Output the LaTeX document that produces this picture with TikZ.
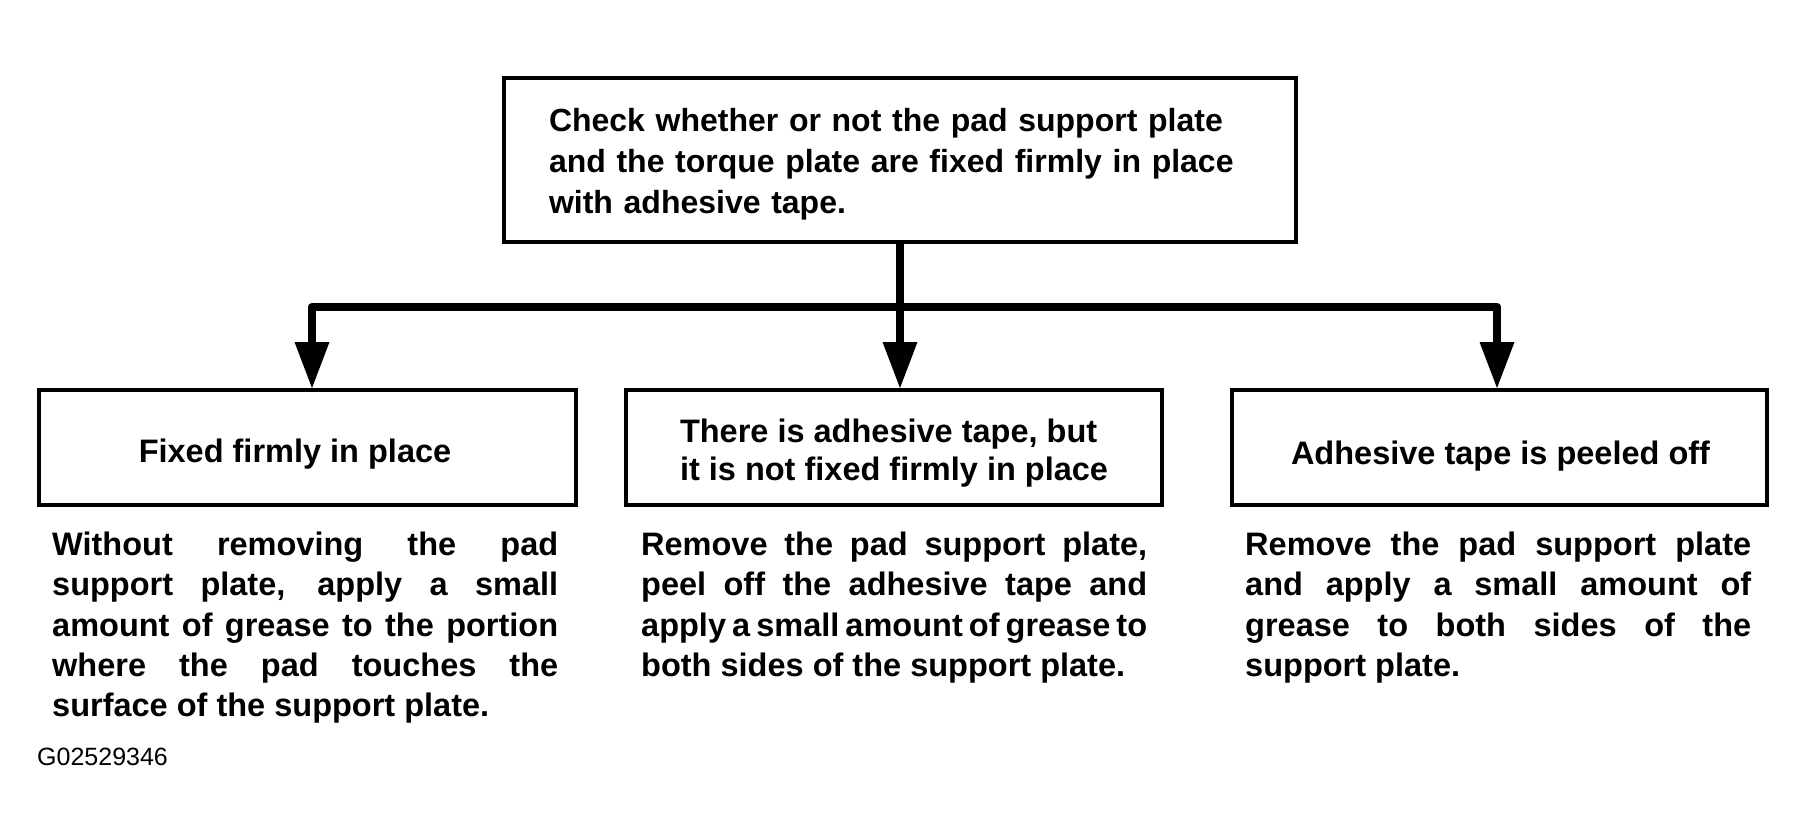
\documentclass[tikz,border=0pt]{standalone}
\usepackage{fontspec}
\setmainfont{Liberation Sans}
\usetikzlibrary{arrows.meta}
\newcommand\topfont{\bfseries\fontsize{32pt}{41pt}\selectfont}
\newcommand\boxfont{\bfseries\fontsize{32.5pt}{38.5pt}\selectfont}
\newcommand\bodyfont{\bfseries\fontsize{32.5pt}{40.2pt}\selectfont\spaceskip=0.278em plus 2em minus 0.1em\relax\tolerance=10000\hbadness=10000\hyphenpenalty=10000\exhyphenpenalty=10000\relax}
\newcommand\codefont{\fontsize{25pt}{30pt}\selectfont}
\begin{document}
\begin{tikzpicture}[x=1pt,y=-1pt,
  box/.style={draw, line width=4pt, inner sep=0pt},
  lowbox/.style={box, minimum height=115pt, align=left, font=\boxfont},
  body/.style={inner sep=0pt, text width=506pt, align=justify, font=\bodyfont, anchor=north west},
  conn/.style={line width=8.5pt, line join=round, >={Triangle[length=46pt,width=35pt,line width=0pt]}}]
\useasboundingbox[fill=white] (0,0) rectangle (1806,840);

\node[box, minimum width=792pt, minimum height=164pt, text width=702pt, inner xsep=45pt, align=left, font=\topfont] (top) at (900,160)
  {\rule{0pt}{31.8pt}Check whether or not the pad support plate\\and the torque plate are fixed firmly in place\\with adhesive tape.};

\node[lowbox, minimum width=537pt, text height=29pt, text depth=0pt] (boxL) at (307.5,447.5) {Fixed firmly in place\hspace*{25pt}};
\node[lowbox, minimum width=536pt] (boxM) at (894,447.5) {\rule{0pt}{34.4pt}There is adhesive tape, but\\it is not fixed firmly in place};
\node[lowbox, minimum width=535pt, text height=33pt, text depth=0pt] (boxR) at (1499.5,447.5) {\hspace*{2pt}Adhesive tape is peeled off};

\coordinate (jL) at (312,307);
\coordinate (jR) at (1497,307);
\draw[conn,->] (top.south) -- (boxM.north -| top.south);
\draw[conn,<->] (boxL.north -| jL) |- (jR) -- (boxR.north -| jR);

\node[body] (bodyL) at (52,532) {Without removing the pad\linebreak support plate, apply a small\linebreak amount of grease to the portion\linebreak where the pad touches the\linebreak surface of the support plate.};
\node[body] (bodyM) at (641,532) {Remove the pad support plate,\linebreak peel off the adhesive tape and\linebreak apply a small amount of grease to\linebreak both sides of the support plate.};
\node[body] (bodyR) at (1245,532) {Remove the pad support plate\linebreak and apply a small amount of\linebreak grease to both sides of the\linebreak support plate.};

\node[anchor=base west, inner sep=0pt, font=\codefont] (code) at (37,765) {G02529346};
\end{tikzpicture}
\end{document}
